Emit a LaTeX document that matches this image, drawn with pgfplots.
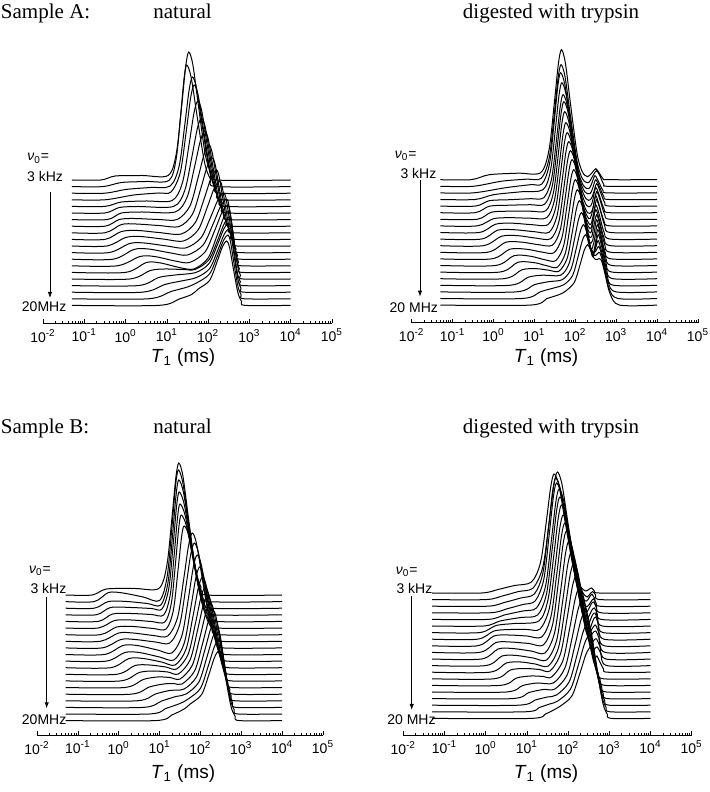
\documentclass[border=0pt]{standalone}
\usepackage{fontspec}
\setmainfont{Liberation Serif}
\newfontfamily\sansf{Liberation Sans}
\usepackage{pgfplots}
\pgfplotsset{compat=1.18}
\usetikzlibrary{arrows.meta}
\pgfplotsset{
  tc/.style={black, line width=0.5pt, smooth, tension=0.5, mark=none},
  panel/.style={
    scale only axis, anchor=south west, clip=false,
    xmin=-2, xmax=5,
    axis x line*=bottom, axis y line=none,
    xtick={-2,-1,0,1,2,3,4,5},
    xticklabels={10\textsuperscript{-2},10\textsuperscript{-1},10\textsuperscript{0},10\textsuperscript{1},10\textsuperscript{2},10\textsuperscript{3},10\textsuperscript{4},10\textsuperscript{5}},
    minor xtick={-1.699,-1.523,-1.398,-1.301,-1.222,-1.155,-1.097,-1.046,
      -0.699,-0.523,-0.398,-0.301,-0.222,-0.155,-0.097,-0.046,
      0.301,0.477,0.602,0.699,0.778,0.845,0.903,0.954,
      1.301,1.477,1.602,1.699,1.778,1.845,1.903,1.954,
      2.301,2.477,2.602,2.699,2.778,2.845,2.903,2.954,
      3.301,3.477,3.602,3.699,3.778,3.845,3.903,3.954,
      4.301,4.477,4.602,4.699,4.778,4.845,4.903,4.954},
    xtick align=inside,
    major tick length=1.8pt, minor tick length=1.1pt,
    tick style={black, line width=0.35pt},
    axis line style={black, line width=0.4pt},
    xticklabel style={font=\sansf\fontsize{7}{8}\selectfont, yshift=0.5pt},
    ytick=\empty,
  },
}
\begin{document}
\begin{tikzpicture}
\path[use as bounding box] (0,0) rectangle (354.5pt,396pt);

% ---------------- Sample A, natural ----------------
\begin{axis}[panel, at={(21.5pt,234.5pt)}, width=144.5pt, height=145pt, ymin=0, ymax=290]
\addplot[tc] coordinates {(-1.3,143) (-0.6,143) (-0.25,147) (0.4,147.5) (1.03,147.5) (1.23,169.7) (1.355,215.4) (1.455,256.2) (1.53,271) (1.63,258.2) (1.765,217.2) (1.93,168.6) (2.066,150.7) (2.2,143) (4,143)};
\addplot[tc] coordinates {(-1.3,136.4) (-0.55,136.4) (-0.1,140.5) (0.5,141.5) (1.05,142.5) (1.222,163.3) (1.33,206) (1.416,244.1) (1.48,258) (1.588,245.8) (1.732,207) (1.912,160.7) (2.056,143.7) (2.2,136.4) (4,136.4)};
\addplot[tc] coordinates {(-1.3,129.8) (-0.5,129.8) (0,133.5) (0.6,135.5) (1.08,137) (1.296,156.6) (1.431,197) (1.539,232.9) (1.62,246) (1.722,234.4) (1.858,197.2) (2.028,153) (2.164,136.8) (2.3,129.8) (4,129.8)};
\addplot[tc] coordinates {(-1.3,123.2) (-0.5,123.2) (0.2,128) (0.8,130) (1.1,131) (1.324,150.3) (1.464,189.9) (1.576,225.2) (1.66,238) (1.764,226.5) (1.902,189.8) (2.074,146.2) (2.212,130.1) (2.35,123.2) (4,123.2)};
\addplot[tc] coordinates {(-1.3,116.6) (-0.5,116.6) (-0.1,121) (0.5,122) (1.13,122.5) (1.378,140.4) (1.533,177.2) (1.657,210.1) (1.75,222) (1.848,211.5) (1.978,177.7) (2.14,137.7) (2.27,122.9) (2.4,116.6) (4,116.6)};
\addplot[tc] coordinates {(-1.3,110) (-0.5,110) (-0.15,115.5) (0.3,116.5) (1.16,116.5) (1.432,132.4) (1.602,165.2) (1.738,194.4) (1.84,205) (1.932,195.5) (2.054,165.1) (2.206,129) (2.328,115.7) (2.45,110) (4,110)};
\addplot[tc] coordinates {(-1.3,103.4) (-0.45,103.4) (-0.1,110) (0.4,111) (1.2,111) (1.488,125.6) (1.668,155.6) (1.812,182.3) (1.92,192) (2.007,183.1) (2.123,154.8) (2.268,121.1) (2.384,108.7) (2.5,103.4) (4,103.4)};
\addplot[tc] coordinates {(-1.3,96.8) (-0.5,96.8) (-0.15,103.5) (0.2,104.5) (0.8,103.5) (1.25,103.5) (1.558,116.9) (1.751,144.5) (1.905,169.1) (2.02,178) (2.1,169.9) (2.206,143.9) (2.338,113) (2.444,101.7) (2.55,96.8) (4,96.8)};
\addplot[tc] coordinates {(-1.3,90.2) (-0.5,90.2) (-0.1,98.5) (0.25,99) (0.8,97.5) (1.3,96.5) (1.62,108.8) (1.82,134.2) (1.98,156.8) (2.1,165) (2.175,157.5) (2.275,133.6) (2.4,105.2) (2.5,94.7) (2.6,90.2) (4,90.2)};
\addplot[tc] coordinates {(-1.3,83.6) (-0.5,83.6) (-0.1,91.5) (0.3,92.5) (0.8,90.5) (1.35,89) (1.69,100.5) (1.903,124.2) (2.073,145.3) (2.2,153) (2.268,146.1) (2.358,123.9) (2.47,97.5) (2.56,87.8) (2.65,83.6) (4,83.6)};
\addplot[tc] coordinates {(-1.3,77) (-0.45,77) (0,85.5) (0.35,86.5) (0.9,84) (1.4,82) (1.752,92.8) (1.972,115) (2.148,134.8) (2.28,142) (2.343,135.5) (2.427,114.7) (2.532,90) (2.616,80.9) (2.7,77) (4,77)};
\addplot[tc] coordinates {(-1.3,70.4) (-0.4,70.4) (0.1,79.5) (0.45,80) (1.0,77) (1.45,75) (1.822,84.9) (2.055,105.3) (2.241,123.4) (2.38,130) (2.436,124) (2.51,105) (2.602,82.3) (2.676,74) (2.75,70.4) (4,70.4)};
\addplot[tc] coordinates {(-1.3,63.8) (-0.3,63.8) (0.2,73.5) (0.55,74) (1.1,70) (1.5,68) (1.88,78.1) (2.118,98.8) (2.308,117.3) (2.45,124) (2.5,118) (2.566,98.7) (2.648,75.8) (2.714,67.4) (2.78,63.8) (4,63.8)};
\addplot[tc] coordinates {(-1.3,57.2) (-0.2,57.2) (0.35,66.5) (0.7,66.5) (1.2,62) (1.55,60.5) (1.922,70.9) (2.155,92.1) (2.341,111.1) (2.48,118) (2.528,111.9) (2.592,92.5) (2.672,69.4) (2.736,60.9) (2.8,57.2) (4,57.2)};
\addplot[tc] coordinates {(-1.3,50.6) (0,50.6) (0.5,60.5) (0.85,60) (1.3,55.5) (1.65,54) (1.99,64.4) (2.203,85.9) (2.373,105) (2.5,112) (2.548,105.9) (2.612,86.2) (2.692,62.9) (2.756,54.3) (2.82,50.6) (4,50.6)};
\addplot[tc] coordinates {(-1.3,44) (0.1,44) (0.6,52.5) (0.95,54) (1.4,53.5) (1.68,53.5) (2.016,63) (2.226,82.4) (2.394,99.7) (2.52,106) (2.57,99.8) (2.636,80) (2.718,56.4) (2.784,47.7) (2.85,44) (4,44)};
\addplot[tc] coordinates {(-1.3,37.4) (0.3,37.4) (0.8,45.5) (1.2,48) (1.7,50.5) (2.02,59.4) (2.22,77.7) (2.38,94.1) (2.5,100) (2.553,93.7) (2.623,73.7) (2.71,49.9) (2.78,41.2) (2.85,37.4) (4,37.4)};
\addplot[tc] coordinates {(-1.3,30.8) (0.4,30.8) (0.95,38.5) (1.35,42) (1.72,45.5) (2.032,54.2) (2.227,72.2) (2.383,88.2) (2.5,94) (2.556,87.7) (2.63,67.5) (2.722,43.4) (2.796,34.6) (2.87,30.8) (4,30.8)};
\addplot[tc] coordinates {(-1.3,24.2) (0.55,24.2) (1.1,31.5) (1.5,36) (1.74,40.5) (2.036,49.1) (2.221,66.6) (2.369,82.3) (2.48,88) (2.54,81.6) (2.62,61.2) (2.72,37) (2.8,28) (2.88,24.2) (4,24.2)};
\addplot[tc] coordinates {(-1.3,17.6) (0.8,17.6) (1.3,24) (1.6,28.5) (1.76,34) (2.036,42.6) (2.209,60.4) (2.347,76.2) (2.45,82) (2.518,75.6) (2.608,55) (2.72,30.5) (2.81,21.5) (2.9,17.6) (4,17.6)};
\end{axis}

% ---------------- Sample A, digested ----------------
\begin{axis}[panel, at={(205.85pt,234.65pt)}, width=143.15pt, height=145pt, ymin=0, ymax=290]
\addplot[tc] coordinates {(-1.3,143) (-0.55,143) (-0.1,148) (0.6,149.5) (1.15,150) (1.354,172.1) (1.482,217.7) (1.584,258.2) (1.66,273) (1.756,260) (1.884,218.4) (2.044,169) (2.17,151) (2.3,146) (2.41,150) (2.5,154) (2.58,150) (2.68,144) (2.8,143) (4,143)};
\addplot[tc] coordinates {(-1.3,136.4) (-0.5,136.4) (0.2,141.5) (0.8,143.5) (1.17,144.5) (1.362,164.9) (1.482,206.9) (1.578,244.4) (1.65,258) (1.749,246) (1.881,206.9) (2.046,160.7) (2.178,143.7) (2.32,140) (2.43,147) (2.52,152) (2.6,147) (2.7,138) (2.8,136.4) (4,136.4)};
\addplot[tc] coordinates {(-1.3,129.8) (-0.5,129.8) (0.3,135) (0.9,138) (1.19,139) (1.37,159) (1.4825,200) (1.5725,236.7) (1.64,250) (1.745,238) (1.885,199.5) (2.06,153.8) (2.2,137) (2.33,134) (2.4,139) (2.48,147) (2.57,141) (2.68,132) (2.8,129.8) (4,129.8)};
\addplot[tc] coordinates {(-1.3,123.2) (-0.45,123.2) (0,128) (0.7,131) (1.21,133) (1.394,152.3) (1.509,191.9) (1.601,227.2) (1.67,240) (1.775,228.3) (1.915,191) (2.09,146.6) (2.23,131) (2.36,129) (2.42,134) (2.5,143) (2.59,136) (2.7,126) (2.82,123.2) (4,123.2)};
\addplot[tc] coordinates {(-1.3,116.6) (-0.45,116.6) (-0.1,122) (0.4,123) (0.9,124) (1.23,125) (1.418,143.5) (1.536,181.7) (1.63,215.6) (1.7,228) (1.805,216.9) (1.945,181.2) (2.12,138.9) (2.26,124) (2.37,123) (2.44,129) (2.52,139) (2.61,131) (2.72,120) (2.84,116.6) (4,116.6)};
\addplot[tc] coordinates {(-1.3,110) (-0.45,110) (-0.1,116.5) (0.4,117.5) (0.9,118) (1.25,118.5) (1.438,137) (1.556,174.9) (1.65,208.7) (1.72,221) (1.825,209.9) (1.965,174.4) (2.14,132.2) (2.28,117) (2.38,117) (2.43,123) (2.5,135) (2.59,127) (2.7,114) (2.84,110) (4,110)};
\addplot[tc] coordinates {(-1.3,103.4) (-0.4,103.4) (-0.05,110.5) (0.4,111.5) (0.9,111.5) (1.28,112) (1.464,129.8) (1.579,166.5) (1.671,199.1) (1.74,211) (1.845,200.2) (1.985,165.8) (2.16,124.9) (2.3,110) (2.4,111) (2.45,118) (2.52,131) (2.61,122) (2.72,108) (2.86,103.4) (4,103.4)};
\addplot[tc] coordinates {(-1.3,96.8) (-0.4,96.8) (0,104) (0.4,105) (0.9,104.5) (1.3,105) (1.488,122.1) (1.606,157.3) (1.7,188.6) (1.77,200) (1.875,189.7) (2.015,156.7) (2.19,117.4) (2.33,104) (2.39,107) (2.44,116) (2.5,127) (2.58,118) (2.7,102) (2.85,96.8) (4,96.8)};
\addplot[tc] coordinates {(-1.3,90.2) (-0.35,90.2) (0.05,98.5) (0.45,99.5) (0.95,98) (1.33,98) (1.518,114.6) (1.636,148.6) (1.73,179) (1.8,190) (1.905,180) (2.045,148.1) (2.22,110.2) (2.36,98) (2.42,104) (2.47,114) (2.52,123) (2.6,114) (2.72,97) (2.86,90.2) (4,90.2)};
\addplot[tc] coordinates {(-1.3,83.6) (-0.3,83.6) (0.1,92.5) (0.5,93) (1.0,91) (1.36,90.5) (1.552,106.8) (1.672,140.3) (1.768,170.1) (1.84,181) (1.945,171.3) (2.085,140.1) (2.26,103.1) (2.36,94) (2.41,98) (2.45,108) (2.5,118) (2.58,109) (2.7,91) (2.86,83.6) (4,83.6)};
\addplot[tc] coordinates {(-1.3,77) (-0.25,77) (0.2,86.5) (0.6,87) (1.05,84.5) (1.4,84) (1.592,99.8) (1.712,132.4) (1.808,161.4) (1.88,172) (1.982,162.5) (2.118,132.1) (2.288,96) (2.38,90) (2.43,100) (2.5,113) (2.58,104) (2.7,85) (2.86,77) (4,77)};
\addplot[tc] coordinates {(-1.3,70.4) (-0.15,70.4) (0.3,80.5) (0.7,80.5) (1.1,78) (1.44,77.5) (1.632,92.9) (1.752,124.5) (1.848,152.7) (1.92,163) (2.019,153.7) (2.151,124.1) (2.316,88.9) (2.4,86) (2.45,96) (2.52,108) (2.6,98) (2.72,78) (2.87,70.4) (4,70.4)};
\addplot[tc] coordinates {(-1.3,63.8) (-0.05,63.8) (0.4,73.5) (0.8,73.5) (1.2,70.5) (1.48,70) (1.672,84.9) (1.792,115.7) (1.888,143) (1.96,153) (2.056,144.1) (2.184,115.5) (2.344,81.6) (2.42,82) (2.47,92) (2.52,103) (2.6,93) (2.72,72) (2.88,63.8) (4,63.8)};
\addplot[tc] coordinates {(-1.3,57.2) (0.05,57.2) (0.5,67) (0.9,66.5) (1.25,63) (1.52,62) (1.712,76.6) (1.832,106.6) (1.928,133.3) (2.0,143) (2.093,134.4) (2.217,107) (2.372,74.4) (2.44,78) (2.49,88) (2.54,98) (2.62,88) (2.74,66) (2.9,57.2) (4,57.2)};
\addplot[tc] coordinates {(-1.3,50.6) (0.15,50.6) (0.6,60.5) (1.0,60) (1.3,57) (1.56,55.5) (1.756,69.5) (1.879,98.1) (1.977,123.7) (2.05,133) (2.14,124.8) (2.26,98.4) (2.41,67.1) (2.46,72) (2.5,82) (2.55,93) (2.63,83) (2.75,60) (2.9,50.6) (4,50.6)};
\addplot[tc] coordinates {(-1.3,44) (0.25,44) (0.7,53) (1.05,54) (1.35,52.5) (1.6,51.5) (1.8,64.2) (1.925,90.3) (2.025,113.5) (2.1,122) (2.183,114.2) (2.293,89.2) (2.43,68) (2.49,76) (2.56,88) (2.64,77) (2.76,54) (2.92,44) (4,44)};
\addplot[tc] coordinates {(-1.3,37.4) (0.4,37.4) (0.85,45.5) (1.2,47.5) (1.64,47.5) (1.844,58.8) (1.972,81.9) (2.074,102.5) (2.15,110) (2.225,102.7) (2.325,79.5) (2.44,70) (2.5,75) (2.56,82) (2.65,70) (2.78,47) (2.94,37.4) (4,37.4)};
\addplot[tc] coordinates {(-1.3,30.8) (0.55,30.8) (1.0,38) (1.35,41) (1.68,43) (1.888,52.9) (2.018,73.3) (2.122,91.4) (2.2,98) (2.275,91.3) (2.37,75) (2.46,70) (2.52,73) (2.58,76) (2.67,64) (2.8,41) (3.0,30.8) (4,30.8)};
\addplot[tc] coordinates {(-1.3,24.2) (0.7,24.2) (1.15,31) (1.5,35) (1.72,38) (1.932,47) (2.065,65.5) (2.17,82) (2.25,88) (2.32,82) (2.4,71) (2.48,67) (2.54,69) (2.6,70) (2.69,58) (2.82,35) (3.04,24.2) (4,24.2)};
\addplot[tc] coordinates {(-1.3,17.6) (0.9,17.6) (1.3,24) (1.6,28) (1.76,31.5) (1.976,40.3) (2.111,57.3) (2.219,72.5) (2.3,78) (2.37,73) (2.45,65) (2.52,63) (2.58,64) (2.64,62) (2.72,50) (2.85,29) (3.08,17.6) (4,17.6)};
\end{axis}

% ---------------- Sample B, natural ----------------
\begin{axis}[panel, at={(18.5pt,28.5pt)}, width=143pt, height=145pt, ymin=-2, ymax=288]
\addplot[tc] coordinates {(-1.3,138) (-0.65,138) (-0.3,144) (0.4,144.5) (0.98,144.5) (1.176,167.1) (1.299,213.5) (1.397,254.9) (1.47,270) (1.572,256.8) (1.708,214.6) (1.878,164.4) (2.014,145.9) (2.15,138) (4,138)};
\addplot[tc] coordinates {(-1.3,131.4) (-0.6,131.4) (-0.25,140.5) (0.1,140) (0.6,136) (1.0,132.5) (1.184,156) (1.299,204.3) (1.391,247.3) (1.46,263) (1.571,249.8) (1.719,207.7) (1.904,157.7) (2.052,139.3) (2.2,131.4) (4,131.4)};
\addplot[tc] coordinates {(-1.3,124.8) (-0.6,124.8) (-0.25,131.5) (0.2,131.5) (0.7,129.5) (1.03,128) (1.206,150.5) (1.316,196.8) (1.404,238) (1.47,253) (1.587,240.2) (1.743,199.2) (1.938,150.4) (2.094,132.5) (2.25,124.8) (4,124.8)};
\addplot[tc] coordinates {(-1.3,118.2) (-0.55,118.2) (-0.2,125.5) (0.3,125.5) (0.8,124.5) (1.06,124) (1.228,145.1) (1.333,188.4) (1.417,227) (1.48,241) (1.603,228.7) (1.767,189.4) (1.972,142.8) (2.136,125.6) (2.3,118.2) (4,118.2)};
\addplot[tc] coordinates {(-1.3,111.6) (-0.5,111.6) (-0.15,119) (0.3,119.5) (0.8,118.5) (1.1,118) (1.26,138) (1.36,179.1) (1.44,215.7) (1.5,229) (1.628,217.3) (1.798,179.7) (2.01,135.1) (2.18,118.6) (2.35,111.6) (4,111.6)};
\addplot[tc] coordinates {(-1.3,105) (-0.5,105) (-0.1,112.5) (0.3,113) (0.8,111.5) (1.13,111) (1.29,130.3) (1.39,169.9) (1.47,205.2) (1.53,218) (1.66,206.7) (1.835,170.5) (2.052,127.6) (2.226,111.8) (2.4,105) (4,105)};
\addplot[tc] coordinates {(-1.3,98.3) (-0.45,98.3) (-0.05,106) (0.35,106.5) (0.85,104.5) (1.16,104) (1.336,122.5) (1.446,160.7) (1.534,194.6) (1.6,207) (1.728,196.1) (1.898,161.3) (2.11,120) (2.28,104.8) (2.45,98.3) (4,98.3)};
\addplot[tc] coordinates {(-1.3,91.7) (-0.45,91.7) (0,100) (0.35,100) (0.85,97.5) (1.2,97) (1.44,115.5) (1.59,153.7) (1.71,187.6) (1.8,200) (1.905,189.2) (2.045,154.5) (2.22,113.4) (2.36,98.2) (2.5,91.7) (4,91.7)};
\addplot[tc] coordinates {(-1.3,85.1) (-0.4,85.1) (0.05,93.5) (0.4,93.5) (0.9,91) (1.25,90) (1.49,108) (1.64,145) (1.76,178) (1.85,190) (1.955,179.5) (2.095,145.9) (2.27,106.1) (2.41,91.4) (2.55,85.1) (4,85.1)};
\addplot[tc] coordinates {(-1.3,78.5) (-0.35,78.5) (0.1,87.5) (0.45,87.5) (0.95,83) (1.3,80) (1.548,97.6) (1.703,133.9) (1.827,166.2) (1.92,178) (2.022,168.1) (2.158,136.2) (2.328,98.4) (2.464,84.5) (2.6,78.5) (4,78.5)};
\addplot[tc] coordinates {(-1.3,71.9) (-0.3,71.9) (0.15,80.5) (0.5,80.5) (1.0,76) (1.35,73) (1.602,89.7) (1.76,124.2) (1.886,154.8) (1.98,166) (2.079,156.6) (2.211,126.5) (2.376,90.7) (2.508,77.5) (2.64,71.9) (4,71.9)};
\addplot[tc] coordinates {(-1.3,65.3) (-0.2,65.3) (0.25,74.5) (0.6,74.5) (1.05,71) (1.38,68) (1.648,83.8) (1.816,116.4) (1.95,145.4) (2.05,156) (2.145,146.9) (2.271,117.9) (2.428,83.4) (2.554,70.7) (2.68,65.3) (4,65.3)};
\addplot[tc] coordinates {(-1.3,58.7) (-0.05,58.7) (0.4,67.5) (0.75,68) (1.15,66) (1.42,64) (1.7,78.8) (1.875,109.1) (2.015,136.2) (2.12,146) (2.21,137.3) (2.33,109.3) (2.48,76.2) (2.6,63.9) (2.72,58.7) (4,58.7)};
\addplot[tc] coordinates {(-1.3,52.1) (0.05,52.1) (0.5,60.5) (0.85,62) (1.2,61) (1.46,59) (1.748,73.2) (1.928,102.5) (2.072,128.5) (2.18,138) (2.266,129.4) (2.38,101.9) (2.522,69.3) (2.636,57.3) (2.75,52.1) (4,52.1)};
\addplot[tc] coordinates {(-1.3,45.5) (0.15,45.5) (0.6,53.5) (0.95,56) (1.25,55.5) (1.5,54) (1.8,67.7) (1.988,95.8) (2.138,120.9) (2.25,130) (2.33,121.6) (2.436,94.5) (2.568,62.4) (2.674,50.6) (2.78,45.5) (4,45.5)};
\addplot[tc] coordinates {(-1.3,38.8) (0.3,38.8) (0.75,46) (1.1,49) (1.35,49.5) (1.55,49) (1.858,62.1) (2.051,89.2) (2.205,113.2) (2.32,122) (2.395,113.7) (2.495,87.1) (2.62,55.4) (2.72,43.8) (2.82,38.8) (4,38.8)};
\addplot[tc] coordinates {(-1.3,32.2) (0.45,32.2) (0.9,39) (1.25,42.5) (1.6,44) (1.908,56.4) (2.101,82) (2.255,104.7) (2.37,113) (2.442,104.9) (2.538,79.1) (2.658,48.4) (2.754,37) (2.85,32.2) (4,32.2)};
\addplot[tc] coordinates {(-1.3,25.6) (0.6,25.6) (1.05,32) (1.4,36.5) (1.65,39) (1.958,50.7) (2.151,74.8) (2.305,96.2) (2.42,104) (2.489,96.2) (2.581,71.1) (2.696,41.3) (2.788,30.3) (2.88,25.6) (4,25.6)};
\addplot[tc] coordinates {(-1.3,19) (0.75,19) (1.15,24.5) (1.5,29.5) (1.7,34) (2.0,44.6) (2.188,66.5) (2.338,85.9) (2.45,93) (2.52,85.6) (2.615,61.9) (2.732,33.8) (2.826,23.4) (2.92,19) (4,19)};
\addplot[tc] coordinates {(-1.3,12.4) (0.9,12.4) (1.3,18) (1.6,24) (1.75,29) (2.03,38.5) (2.205,58.2) (2.345,75.6) (2.45,82) (2.525,75) (2.625,52.8) (2.75,26.3) (2.85,16.6) (2.95,12.4) (4,12.4)};
\end{axis}

% ---------------- Sample B, digested ----------------
\begin{axis}[panel, at={(201.65pt,28.5pt)}, width=144.2pt, height=145pt, ymin=-2, ymax=288]
\addplot[tc] coordinates {(-1.3,140) (-0.1,140) (0.3,143.5) (0.7,147.5) (1.11,151) (1.33,170.4) (1.468,210.4) (1.578,246) (1.66,259) (1.779,247.1) (1.937,209) (2.134,163.8) (2.292,147.1) (2.42,142) (2.5,143.5) (2.57,145) (2.64,142) (2.75,140) (4,140)};
\addplot[tc] coordinates {(-1.3,133.4) (0,133.4) (0.4,137) (0.8,141.5) (1.15,145) (1.386,165.9) (1.534,208.8) (1.652,247.1) (1.74,261) (1.854,248.2) (2.006,207.4) (2.196,158.9) (2.348,141.1) (2.46,136) (2.53,139) (2.6,141.4) (2.67,138) (2.78,133.4) (4,133.4)};
\addplot[tc] coordinates {(-1.3,126.8) (0.05,126.8) (0.45,130.5) (0.85,135) (1.18,139) (1.388,159.9) (1.518,202.8) (1.622,241.1) (1.7,255) (1.823,242.2) (1.987,201.2) (2.192,152.4) (2.356,134.5) (2.45,132) (2.52,136) (2.58,138.8) (2.65,134) (2.76,126.8) (4,126.8)};
\addplot[tc] coordinates {(-1.3,120.2) (0.1,120.2) (0.5,124) (0.9,128.5) (1.2,132) (1.408,153.2) (1.538,196.9) (1.642,235.8) (1.72,250) (1.845,237) (2.011,195.5) (2.218,146.2) (2.384,128) (2.48,127) (2.55,131) (2.62,134.2) (2.69,129) (2.8,120.2) (4,120.2)};
\addplot[tc] coordinates {(-1.3,113.6) (0.05,113.6) (0.45,118) (0.9,122) (1.23,125) (1.45,146.4) (1.588,190.5) (1.698,229.7) (1.78,244) (1.9,231) (2.06,189.2) (2.26,139.7) (2.42,121.4) (2.5,124) (2.56,129) (2.62,131) (2.69,125) (2.8,113.6) (4,113.6)};
\addplot[tc] coordinates {(-1.3,107) (-0.05,107) (0.35,112) (0.85,115.5) (1.26,118) (1.476,139.2) (1.611,182.9) (1.719,221.8) (1.8,236) (1.92,223.1) (2.08,181.8) (2.28,132.8) (2.44,114.7) (2.52,118) (2.58,123) (2.64,125) (2.71,119) (2.83,107) (4,107)};
\addplot[tc] coordinates {(-1.3,100.4) (-0.15,100.4) (0.25,107.5) (0.7,109.5) (1.29,112) (1.51,132.9) (1.648,175.8) (1.758,214.1) (1.84,228) (1.959,215.2) (2.117,174.4) (2.314,125.9) (2.472,108.1) (2.53,112) (2.59,118) (2.65,120) (2.72,113) (2.85,100.4) (4,100.4)};
\addplot[tc] coordinates {(-1.3,93.8) (-0.2,93.8) (0.2,102) (0.6,103.5) (1.0,103.5) (1.32,104) (1.544,124.5) (1.684,166.7) (1.796,204.3) (1.88,218) (1.997,205.6) (2.153,165.8) (2.348,118.6) (2.504,101.3) (2.55,106) (2.61,113) (2.67,116) (2.74,108) (2.87,93.8) (4,93.8)};
\addplot[tc] coordinates {(-1.3,87.2) (-0.2,87.2) (0.2,97) (0.55,98) (1.0,97) (1.36,96) (1.584,116.5) (1.724,158.7) (1.836,196.3) (1.92,210) (2.037,197.7) (2.193,158.4) (2.388,111.8) (2.5,101) (2.58,104) (2.66,108) (2.74,101) (2.88,87.2) (4,87.2)};
\addplot[tc] coordinates {(-1.3,80.6) (-0.15,80.6) (0.25,90.5) (0.6,91) (1.05,89.5) (1.4,88) (1.624,108.5) (1.764,150.7) (1.876,188.3) (1.96,202) (2.074,189.9) (2.226,151) (2.416,104.9) (2.52,96) (2.6,100) (2.67,102) (2.75,95) (2.9,80.6) (4,80.6)};
\addplot[tc] coordinates {(-1.3,74) (-0.1,74) (0.3,84) (0.65,84.5) (1.1,82) (1.44,80) (1.672,100.2) (1.817,141.6) (1.933,178.6) (2.02,192) (2.131,180.2) (2.279,142.4) (2.464,97.6) (2.56,90) (2.63,93) (2.69,94) (2.77,87) (2.92,74) (4,74)};
\addplot[tc] coordinates {(-1.3,67.4) (0,67.4) (0.4,77) (0.75,77.5) (1.15,75) (1.48,73) (1.72,92.4) (1.87,132.4) (1.99,168) (2.08,181) (2.188,169.6) (2.332,133.3) (2.512,90.1) (2.6,83) (2.66,85) (2.71,86) (2.79,80) (2.94,67.4) (4,67.4)};
\addplot[tc] coordinates {(-1.3,60.8) (0.1,60.8) (0.5,70) (0.85,71) (1.2,69) (1.52,67) (1.768,85.5) (1.923,123.7) (2.047,157.6) (2.14,170) (2.245,159.1) (2.385,124.1) (2.56,82.6) (2.64,75) (2.7,77) (2.76,72) (2.86,64) (2.96,60.8) (4,60.8)};
\addplot[tc] coordinates {(-1.3,54.2) (0.2,54.2) (0.6,63) (0.95,64.5) (1.3,63.5) (1.56,62) (1.816,79.3) (1.976,114.8) (2.104,146.5) (2.2,158) (2.299,147.6) (2.431,114.4) (2.596,75) (2.728,60.4) (2.86,54.2) (4,54.2)};
\addplot[tc] coordinates {(-1.3,47.6) (0.35,47.6) (0.75,55) (1.1,57) (1.4,56.5) (1.6,56) (1.872,72.2) (2.042,105.5) (2.178,135.2) (2.28,146) (2.373,136.2) (2.497,104.7) (2.652,67.3) (2.776,53.5) (2.9,47.6) (4,47.6)};
\addplot[tc] coordinates {(-1.3,41) (0.5,41) (0.9,47.5) (1.25,50) (1.64,50) (1.924,65.1) (2.102,96.2) (2.244,123.9) (2.35,134) (2.437,124.7) (2.553,94.9) (2.698,59.6) (2.814,46.6) (2.93,41) (4,41)};
\addplot[tc] coordinates {(-1.3,34.4) (0.65,34.4) (1.05,40.5) (1.4,43.5) (1.68,44) (1.976,58) (2.161,86.9) (2.309,112.6) (2.42,122) (2.501,113.2) (2.609,85.2) (2.744,51.9) (2.852,39.7) (2.96,34.4) (4,34.4)};
\addplot[tc] coordinates {(-1.3,27.8) (0.8,27.8) (1.2,33) (1.5,36) (1.72,38) (2.024,51) (2.214,77.6) (2.366,101.4) (2.48,110) (2.557,101.8) (2.659,75.5) (2.786,44.2) (2.888,32.7) (2.99,27.8) (4,27.8)};
\addplot[tc] coordinates {(-1.3,21.2) (0.95,21.2) (1.3,25.5) (1.55,29) (1.75,32) (2.058,43.9) (2.251,68.3) (2.405,90.1) (2.52,98) (2.595,90.3) (2.695,65.7) (2.82,36.6) (2.92,25.8) (3.02,21.2) (4,21.2)};
\addplot[tc] coordinates {(-1.3,14.6) (1.1,14.6) (1.45,19) (1.65,23) (1.78,26) (2.088,36.8) (2.281,59) (2.435,78.8) (2.55,86) (2.625,78.9) (2.725,56) (2.85,28.9) (2.95,18.9) (3.05,14.6) (4,14.6)};
\end{axis}

% ---------------- titles ----------------
\begin{scope}[every node/.style={inner sep=0pt, font=\fontsize{10.5}{12}\selectfont}]
\node[anchor=base west] at (0.3pt,386.5pt) {Sample A:};
\node[anchor=base] at (91.25pt,386.5pt) {natural};
\node[anchor=base] at (275.5pt,386.5pt) {digested with trypsin};
\node[anchor=base west] at (0.3pt,179pt) {Sample B:};
\node[anchor=base] at (91.25pt,179pt) {natural};
\node[anchor=base] at (275.5pt,179pt) {digested with trypsin};
\end{scope}

% ---------------- axis labels ----------------
\begin{scope}[every node/.style={inner sep=0pt, font=\sansf\fontsize{9.5}{11}\selectfont}]
\node[anchor=base] at (91.5pt,214.5pt) {\textit{T}\textsubscript{1} (ms)};
\node[anchor=base] at (273pt,214.5pt) {\textit{T}\textsubscript{1} (ms)};
\node[anchor=base] at (91.5pt,6.5pt) {\textit{T}\textsubscript{1} (ms)};
\node[anchor=base] at (273pt,6.5pt) {\textit{T}\textsubscript{1} (ms)};
\end{scope}

% ---------------- frequency labels ----------------
\begin{scope}[every node/.style={inner sep=0pt, font=\sansf\fontsize{7}{8}\selectfont}]
\node at (19.15pt,316.85pt) {\textit{ν}\textsubscript{0}=};
\node[anchor=base east] at (31.65pt,305pt) {3 kHz};
\node[anchor=base east] at (33.35pt,240.15pt) {20MHz};
\node at (202.9pt,318pt) {\textit{ν}\textsubscript{0}=};
\node[anchor=base east] at (218.35pt,306.85pt) {3 kHz};
\node[anchor=base east] at (219.15pt,239.5pt) {20 MHz};
\node at (20pt,110.5pt) {\textit{ν}\textsubscript{0}=};
\node[anchor=base east] at (33.35pt,99pt) {3 kHz};
\node[anchor=base east] at (33.35pt,33.5pt) {20MHz};
\node at (203.35pt,110pt) {\textit{ν}\textsubscript{0}=};
\node[anchor=base east] at (216.35pt,99pt) {3 kHz};
\node[anchor=base east] at (218pt,33.5pt) {20 MHz};
\end{scope}
\begin{scope}[line width=0.4pt, -{Latex[length=3pt,width=2.2pt]}]
\draw (25pt,300.15pt) -- (25pt,247pt);
\draw (210pt,305.75pt) -- (210pt,247.65pt);
\draw (23.35pt,97.5pt) -- (23.35pt,41.85pt);
\draw (205.85pt,98pt) -- (205.85pt,41pt);
\end{scope}
\end{tikzpicture}
\end{document}
